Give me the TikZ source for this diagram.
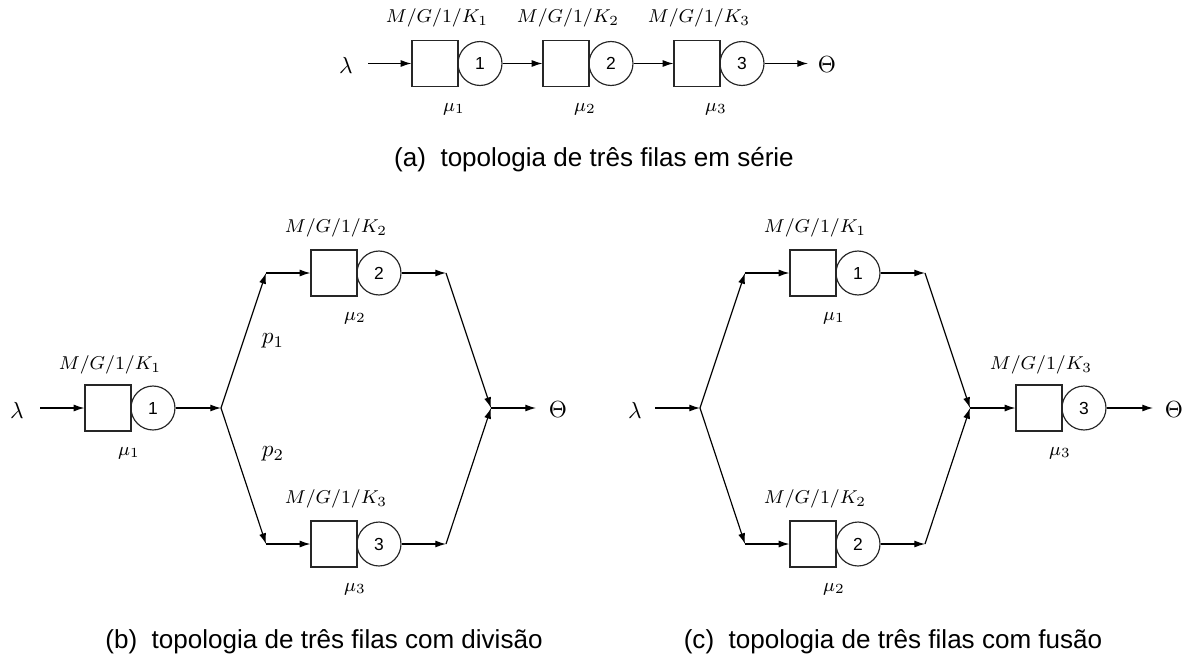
\documentclass[tikz,border=0pt]{standalone}
\usepackage{fontspec}
\newfontfamily\capfont{Liberation Sans}
\usetikzlibrary{arrows.meta}
\begin{document}
\begin{tikzpicture}[x=0.43pt,y=-0.43pt,
  queue/.style={draw=black!85, rectangle, minimum width=19.8pt, minimum height=19.8pt, inner sep=0pt, line width=0.5pt},
  server/.style={draw=black!85, circle, minimum size=18.9pt, inner sep=0pt, line width=0.5pt, font=\capfont\fontsize{7.5}{8}\selectfont},
  kend/.style={inner sep=0pt, font=\fontsize{8}{10}\selectfont},
  rate/.style={inner sep=0pt, font=\fontsize{8}{10}\selectfont},
  ext/.style={inner sep=0pt, font=\fontsize{10}{12}\selectfont},
  prob/.style={inner sep=0pt, font=\fontsize{10}{12}\selectfont},
  capt/.style={inner sep=0pt, font=\capfont\fontsize{11.2}{13}\selectfont},
  flow/.style={-{Latex[length=4.6pt,width=3pt]}, line width=0.5pt},
]
\useasboundingbox (0,0) rectangle (1187,657);

% ---------------- (a) series ----------------
\node[ext] (alam) at (346,65) {$\lambda$};
\coordinate (ain) at (368,63.5);
\node[queue] (aq1) at (435,63.5) {};
\node[server] (as1) at (480,63.5) {1};
\node[queue] (aq2) at (566,63.5) {};
\node[server] (as2) at (611,63.5) {2};
\node[queue] (aq3) at (697,63.5) {};
\node[server] (as3) at (742,63.5) {3};
\coordinate (aout) at (808,63.5);
\node[ext] (ath) at (827,65) {$\Theta$};
\node[kend] (ak1) at (437,18) {$M/G/1/K_1$};
\node[kend] (ak2) at (568,18) {$M/G/1/K_2$};
\node[kend] (ak3) at (699,18) {$M/G/1/K_3$};
\node[rate] (am1) at (454,109) {$\mu_1$};
\node[rate] (am2) at (585,109) {$\mu_2$};
\node[rate] (am3) at (716,109) {$\mu_3$};
\draw[flow] (ain) -- (aq1);
\draw[flow] (as1) -- (aq2);
\draw[flow] (as2) -- (aq3);
\draw[flow] (as3) -- (aout);
\node[capt] (acap) at (594,160) {(a)\ \ topologia de três filas em série};

% ---------------- (b) split ----------------
\node[ext] (blam) at (17,410) {$\lambda$};
\coordinate (bin) at (40,408);
\node[queue] (bq1) at (108,408) {};
\node[server] (bs1) at (153,408) {1};
\coordinate (bsplit) at (221,408);
\coordinate (btl) at (266,273);
\node[queue] (bq2) at (334,273) {};
\node[server] (bs2) at (379,273) {2};
\coordinate (btr) at (446,273);
\coordinate (bbl) at (266,544);
\node[queue] (bq3) at (334,544) {};
\node[server] (bs3) at (379,544) {3};
\coordinate (bbr) at (446,544);
\coordinate (bmerge) at (491,408);
\coordinate (bout) at (536,408);
\node[ext] (bth) at (558,410) {$\Theta$};
\node[kend] (bk1) at (110,365) {$M/G/1/K_1$};
\node[rate] (bm1) at (129,453) {$\mu_1$};
\node[kend] (bk2) at (336,228) {$M/G/1/K_2$};
\node[rate] (bm2) at (355,318) {$\mu_2$};
\node[kend] (bk3) at (336,499) {$M/G/1/K_3$};
\node[rate] (bm3) at (355,589) {$\mu_3$};
\node[prob] (bp1) at (273,341) {$p_1$};
\node[prob] (bp2) at (273,454) {$p_2$};
\draw[flow] (bin) -- (bq1);
\draw[flow] (bs1) -- (bsplit);
\draw[flow] (bsplit) -- (btl);
\draw[flow] (btl) -- (bq2);
\draw[flow] (bs2) -- (btr);
\draw[flow] (btr) -- (bmerge);
\draw[flow] (bsplit) -- (bbl);
\draw[flow] (bbl) -- (bq3);
\draw[flow] (bs3) -- (bbr);
\draw[flow] (bbr) -- (bmerge);
\draw[flow] (bmerge) -- (bout);
\node[capt] (bcap) at (324,642) {(b)\ \ topologia de três filas com divisão};

% ---------------- (c) merge ----------------
\node[ext] (clam) at (635,410) {$\lambda$};
\coordinate (cin) at (655,408);
\coordinate (csplit) at (700,408);
\coordinate (ctl) at (745,273);
\node[queue] (cq1) at (813,273) {};
\node[server] (cs1) at (858,273) {1};
\coordinate (ctr) at (925,273);
\coordinate (cbl) at (745,544);
\node[queue] (cq2) at (813,544) {};
\node[server] (cs2) at (858,544) {2};
\coordinate (cbr) at (925,544);
\coordinate (cmerge) at (970,408);
\node[queue] (cq3) at (1039,408) {};
\node[server] (cs3) at (1084,408) {3};
\coordinate (cout) at (1153,408);
\node[ext] (cth) at (1174,410) {$\Theta$};
\node[kend] (ck1) at (815,228) {$M/G/1/K_1$};
\node[rate] (cm1) at (834,318) {$\mu_1$};
\node[kend] (ck2) at (815,499) {$M/G/1/K_2$};
\node[rate] (cm2) at (834,589) {$\mu_2$};
\node[kend] (ck3) at (1041,365) {$M/G/1/K_3$};
\node[rate] (cm3) at (1060,453) {$\mu_3$};
\draw[flow] (cin) -- (csplit);
\draw[flow] (csplit) -- (ctl);
\draw[flow] (ctl) -- (cq1);
\draw[flow] (cs1) -- (ctr);
\draw[flow] (ctr) -- (cmerge);
\draw[flow] (csplit) -- (cbl);
\draw[flow] (cbl) -- (cq2);
\draw[flow] (cs2) -- (cbr);
\draw[flow] (cbr) -- (cmerge);
\draw[flow] (cmerge) -- (cq3);
\draw[flow] (cs3) -- (cout);
\node[capt] (ccap) at (893,642) {(c)\ \ topologia de três filas com fusão};
\end{tikzpicture}
\end{document}
